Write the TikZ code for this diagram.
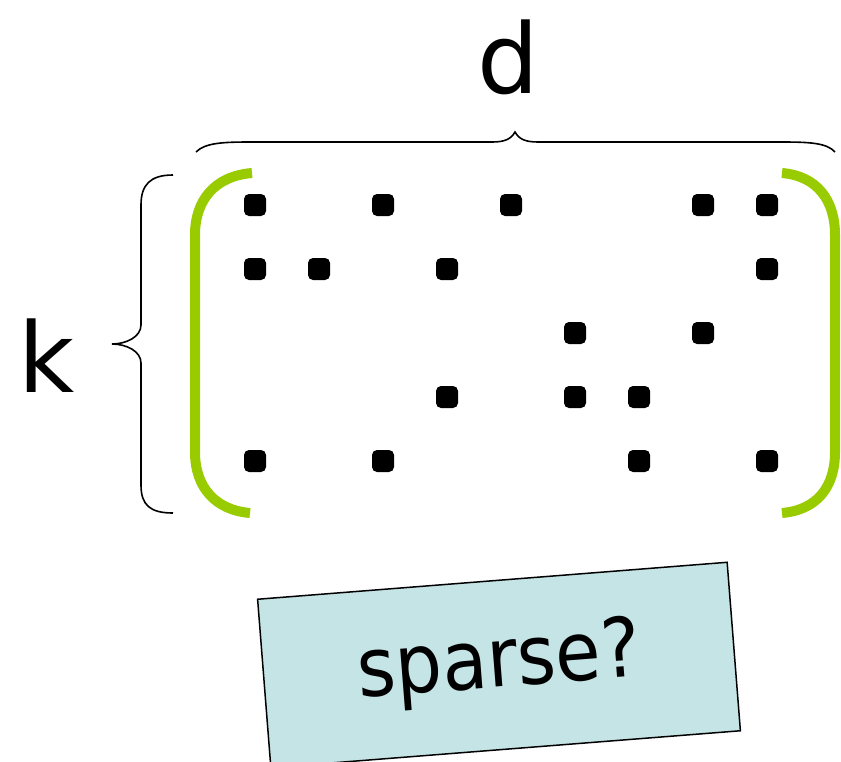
\documentclass[tikz,border=0pt]{standalone}
\usepackage{fontspec}
\setmainfont{DejaVu Sans}
\newfontfamily\boxfont[FakeStretch=0.9]{DejaVu Sans}
\definecolor{parengreen}{RGB}{153,204,0}
\definecolor{boxfill}{RGB}{197,228,230}
\begin{document}
\begin{tikzpicture}[x=1pt,y=-1pt,
  dot/.style={rectangle,rounded corners=5pt,minimum size=22pt,inner sep=0pt,fill=black},
  paren/.style={draw=parengreen,line width=10pt},
  brace/.style={draw=black,line width=1.6pt},
  lbl/.style={inner sep=0pt,anchor=base,font=\fontsize{97}{105}\selectfont},
  notebox/.style={draw=black,line width=1.5pt,fill=boxfill,minimum width=471pt,minimum height=169pt,rotate=4.5,inner sep=0pt,font=\boxfont\fontsize{82}{90}\selectfont}]
\useasboundingbox (0,0) rectangle (841,761);
\clip (0,0) rectangle (841,761);
% dots
\foreach \c/\r [count=\i] in {0/0,2/0,4/0,7/0,8/0,
                             0/1,1/1,3/1,8/1,
                             5/2,7/2,
                             3/3,5/3,6/3,
                             0/4,2/4,6/4,8/4}
  \node[dot] (d\i) at ({255+64*\c},{205+64*\r}) {};
% green parentheses
\path[paren] (252,173) .. controls (215,176) and (195,200) .. (195,235) -- (195,452)
  .. controls (195,487) and (215,510) .. (250,513);
\path[paren] (782,173) .. controls (817,176) and (835,200) .. (835,235) -- (835,452)
  .. controls (835,487) and (817,510) .. (782,513);
% left brace
\coordinate (ltip) at (112,344);
\path[brace] (173,175) .. controls (150,175) and (141,185) .. (141,205) -- (141,325)
  .. controls (141,337) and (126,344) .. (ltip)
  .. controls (126,344) and (141,351) .. (141,363) -- (141,485)
  .. controls (141,505) and (150,513) .. (173,513);
% top brace
\coordinate (ttip) at (515,132);
\path[brace] (196,152) .. controls (205,143) and (222,142) .. (250,142) -- (492,142)
  .. controls (505,142) and (511,139) .. (ttip)
  .. controls (519,139) and (525,142) .. (538,142) -- (782,142)
  .. controls (810,142) and (827,143) .. (835,152);
% labels
\node[lbl] (dlab) at (508,93) {d};
\node[lbl] (klab) at (47,392) {k};
% note box
\node[notebox] (note) at (499,665) {sparse?};
\end{tikzpicture}
\end{document}
